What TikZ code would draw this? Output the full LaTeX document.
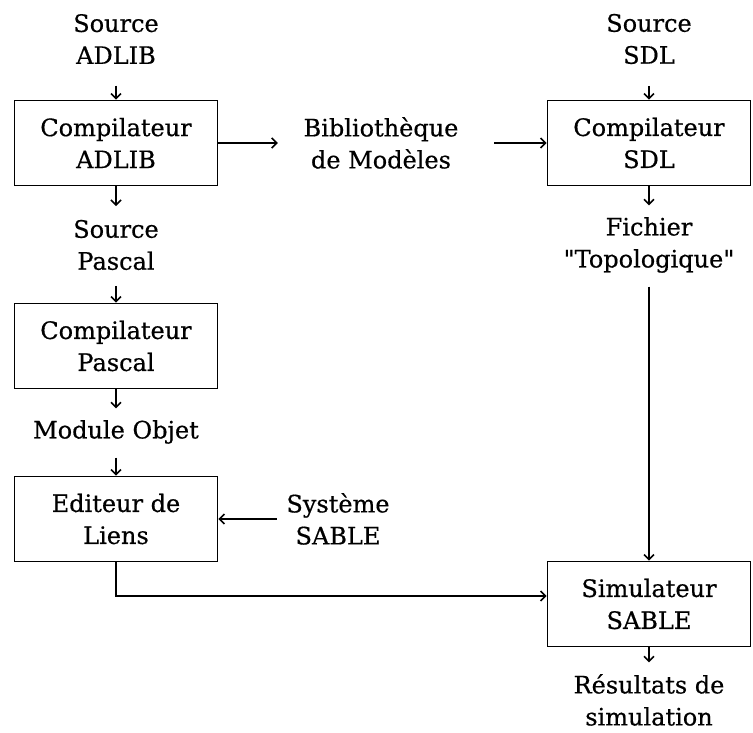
\documentclass[tikz,border=0pt]{standalone}
\usepackage{fontspec}
\setmainfont{DejaVu Serif}[FakeBold=0.5,Ligatures=TeXOff]
\usetikzlibrary{arrows.meta,positioning}
\tikzstyle{etape} = [rectangle, draw, line width=1.7pt, align=center,
    minimum width=203pt, minimum height=85pt, inner sep=2pt]
\tikzstyle{texte} = [align=center, inner sep=1pt]

\begin{document}
\begin{tikzpicture}[->,>={Straight Barb[length=5pt,width=10pt]},line width=1.6pt,
                    x=1pt,y=1pt,font=\fontsize{24}{32}\selectfont]
  \useasboundingbox (0,0) rectangle (753,-733);

  \node[etape]  (compA) at (116,-143)          {Compilateur\\ADLIB};
  \node[texte]  (srcA)  [above of=compA,node distance=104pt] {Source\\ADLIB};
  \node[texte]  (srcP)  [below of=compA,node distance=102pt] {Source\\Pascal};
  \node[etape]  (compP) [below of=srcP,node distance=101pt]  {Compilateur\\Pascal};
  \node[texte]  (mod)   [below of=compP,node distance=86pt]  {Module Objet};
  \node[etape]  (edit)  [below of=mod,node distance=87pt]    {Editeur de\\Liens};
  \node[texte]  (sys)   [right of=edit,node distance=222pt]  {Système\\SABLE};
  \node[texte]  (bib)   [right of=compA,node distance=265pt] {Bibliothèque\\de Modèles};
  \node[etape]  (compS) [right of=compA,node distance=533pt] {Compilateur\\SDL};
  \node[texte]  (srcS)  [above of=compS,node distance=104pt] {Source\\SDL};
  \node[texte]  (fich)  [below of=compS,node distance=102pt] {Fichier\\"Topologique"};
  \node[etape]  (sim)   [below of=compS,node distance=461pt] {Simulateur\\SABLE};
  \node[texte]  (res)   [below of=sim,node distance=96pt]    {Résultats de\\simulation};

  \path (srcA) edge[shorten <=20pt] (compA)
  (compA) edge[shorten >=12pt] (srcP)
  (srcP) edge[shorten <=14pt] (compP)
  (compP) edge[shorten >=10pt] (mod)
  (mod) edge[shorten <=12pt] (edit)
  (sys) edge[shorten <=8pt] (edit)
  (compA) edge[shorten >=24pt] (bib)
  (bib) edge[shorten <=34pt] (compS)
  (srcS) edge[shorten <=20pt] (compS)
  (compS) edge[shorten >=10pt] (fich)
  (fich) edge[shorten <=12pt] (sim)
  (sim) edge[shorten >=10pt] (res);
  \draw (edit.south) |- ([yshift=8pt]sim.west);
\end{tikzpicture}
\end{document}
